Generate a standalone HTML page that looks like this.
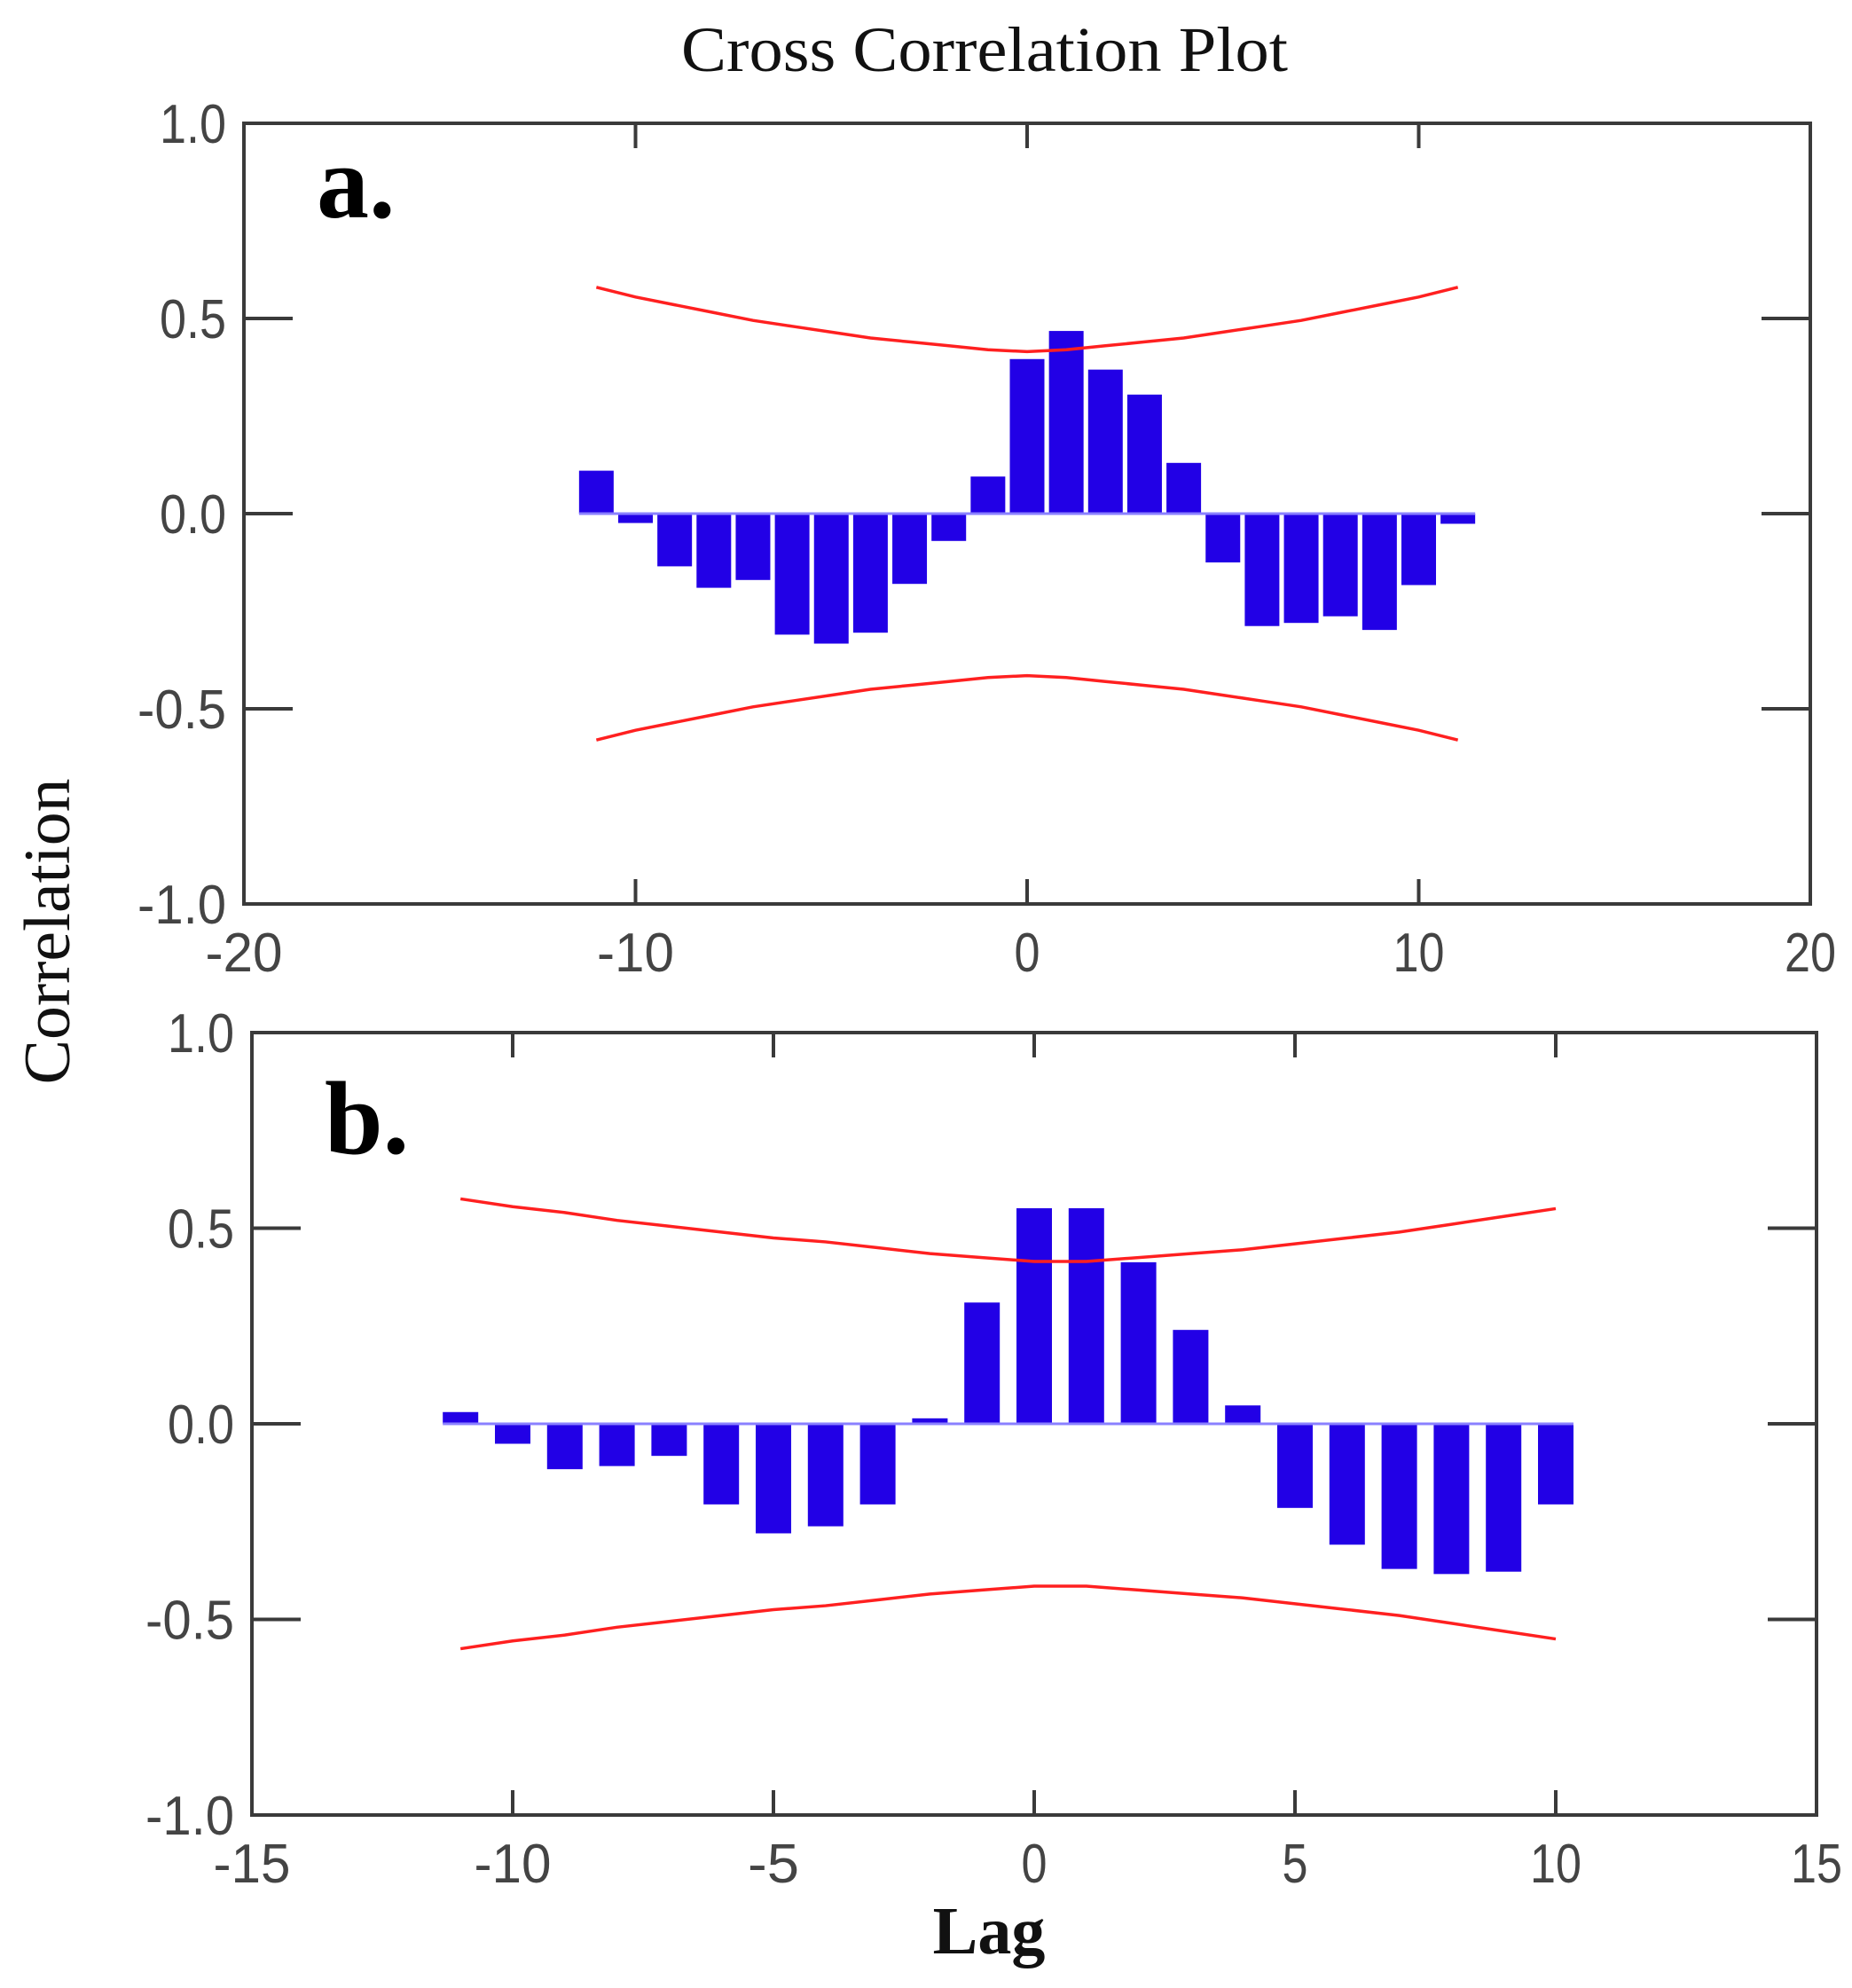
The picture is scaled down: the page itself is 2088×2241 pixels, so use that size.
<!DOCTYPE html>
<html><head><meta charset="utf-8"><style>
html,body{margin:0;padding:0;background:#fff;}
svg{display:block;}
</style></head><body>
<svg id="chart" width="2088" height="2241" viewBox="0 0 2088 2241" xmlns="http://www.w3.org/2000/svg">
<text x="1110" y="80" font-family="Liberation Serif, serif" font-size="72" text-anchor="middle" textLength="684" lengthAdjust="spacingAndGlyphs" fill="#111">Cross Correlation Plot</text>
<text transform="translate(78,1050) rotate(-90)" font-family="Liberation Serif, serif" font-size="74" text-anchor="middle" textLength="345" lengthAdjust="spacingAndGlyphs" fill="#111">Correlation</text>
<text x="1115" y="2202" font-family="Liberation Serif, serif" font-weight="bold" font-size="76" text-anchor="middle" fill="#111">Lag</text>
<g id="panelA"></g>
<g id="panelB"></g>
</svg>
<script>
const lagsA = [-11,-10,-9,-8,-7,-6,-5,-4,-3,-2,-1,0,1,2,3,4,5,6,7,8,9,10,11];
const corrA = [0.11,-0.024,-0.135,-0.19,-0.17,-0.31,-0.333,-0.305,-0.18,-0.07,0.095,0.396,0.468,0.369,0.305,0.13,-0.125,-0.288,-0.28,-0.263,-0.298,-0.183,-0.026];
const upperA = [0.58,0.555,0.535,0.515,0.495,0.48,0.465,0.45,0.44,0.43,0.42,0.415,0.42,0.43,0.44,0.45,0.465,0.48,0.495,0.515,0.535,0.555,0.58];
const lowerA = [-0.58,-0.555,-0.535,-0.515,-0.495,-0.48,-0.465,-0.45,-0.44,-0.43,-0.42,-0.415,-0.42,-0.43,-0.44,-0.45,-0.465,-0.48,-0.495,-0.515,-0.535,-0.555,-0.58];
const xTicksA = [-20,-10,0,10,20];
const lagsB = [-11,-10,-9,-8,-7,-6,-5,-4,-3,-2,-1,0,1,2,3,4,5,6,7,8,9,10];
const corrB = [0.03,-0.051,-0.116,-0.108,-0.082,-0.206,-0.28,-0.262,-0.206,0.014,0.31,0.551,0.551,0.413,0.24,0.047,-0.215,-0.309,-0.371,-0.384,-0.378,-0.206];
const upperB = [0.575,0.555,0.54,0.52,0.505,0.49,0.475,0.465,0.45,0.435,0.425,0.415,0.415,0.425,0.435,0.445,0.46,0.475,0.49,0.51,0.53,0.55];
const lowerB = [-0.575,-0.555,-0.54,-0.52,-0.505,-0.49,-0.475,-0.465,-0.45,-0.435,-0.425,-0.415,-0.415,-0.425,-0.435,-0.445,-0.46,-0.475,-0.49,-0.51,-0.53,-0.55];
const xTicksB = [-15,-10,-5,0,5,10,15];
const yTicks = [-1.0,-0.5,0.0,0.5,1.0];
const yTickLabels = ["-1.0","-0.5","0.0","0.5","1.0"];

const NS = "http://www.w3.org/2000/svg";
function mk(parent, tag, attrs){ const e=document.createElementNS(NS,tag); for(const k in attrs) e.setAttribute(k,attrs[k]); parent.appendChild(e); return e; }

function drawPanel(g, cfg){
  const {L,R,T,B,xmin,xmax,lags,corr,up,lo,xticks,barW,label,labelY,name} = cfg;
  const xs = v => L + (v - xmin) / (xmax - xmin) * (R - L);
  const ys = v => B - (v + 1) / 2 * (B - T);
  lags.forEach((k,i)=>{
    const v = corr[i]; const y0 = ys(0), y1 = ys(v);
    const r = mk(g,'rect',{x:xs(k)-barW/2, y:Math.min(y0,y1), width:barW, height:Math.max(1,Math.abs(y1-y0)), fill:'#2200e6'});
    
    
  });
  const zl = mk(g,'line',{x1:xs(lags[0])-barW/2, x2:xs(lags[lags.length-1])+barW/2, y1:ys(0), y2:ys(0), stroke:'#8a80ff', 'stroke-width':3});
  
  
  const pu = mk(g,'polyline',{points:lags.map((k,i)=>xs(k)+','+ys(up[i])).join(' '), fill:'none', stroke:'#ff2020', 'stroke-width':3.5});
  
  
  const pl = mk(g,'polyline',{points:lags.map((k,i)=>xs(k)+','+ys(lo[i])).join(' '), fill:'none', stroke:'#ff2020', 'stroke-width':3.5});
  
  
  const fr = mk(g,'rect',{x:L, y:T, width:R-L, height:B-T, fill:'none', stroke:'#3a3a3a', 'stroke-width':4});
  
  
  yTicks.forEach((v,i)=>{
    const y = ys(v);
    if (v > -1 && v < 1){
      const t1 = mk(g,'line',{x1:L, x2:L+55, y1:y, y2:y, stroke:'#3a3a3a', 'stroke-width':4});
      
      
      const t2 = mk(g,'line',{x1:R-55, x2:R, y1:y, y2:y, stroke:'#3a3a3a', 'stroke-width':4});
      
      
    }
    const tx = mk(g,'text',{x:L-20, y:y+22, 'font-family':'Liberation Sans, sans-serif', 'font-size':62, 'text-anchor':'end', fill:'#444', textLength: yTickLabels[i].length*25, lengthAdjust:'spacingAndGlyphs'});
    tx.textContent = yTickLabels[i];
    
    
  });
  xticks.forEach(v=>{
    const x = xs(v);
    if (v > xmin && v < xmax){
      const t1 = mk(g,'line',{x1:x, x2:x, y1:T, y2:T+28, stroke:'#3a3a3a', 'stroke-width':4});
      
      
      const t2 = mk(g,'line',{x1:x, x2:x, y1:B-28, y2:B, stroke:'#3a3a3a', 'stroke-width':4});
      
      
    }
    const s = String(v);
    const tx = mk(g,'text',{x:x, y:B+76, 'font-family':'Liberation Sans, sans-serif', 'font-size':62, 'text-anchor':'middle', fill:'#444', textLength: s.length*29, lengthAdjust:'spacingAndGlyphs'});
    tx.textContent = s;
    
    
  });
  const lb = mk(g,'text',{x:L+82, y:labelY, 'font-family':'Liberation Serif, serif', 'font-weight':'bold', 'font-size':118, fill:'#000'});
  lb.textContent = label;
  
  
}

drawPanel(document.getElementById('panelA'), {L:275,R:2041,T:139,B:1019,xmin:-20,xmax:20,lags:lagsA,corr:corrA,up:upperA,lo:lowerA,xticks:xTicksA,barW:39,label:'a.',labelY:245,name:'panel-a'});
drawPanel(document.getElementById('panelB'), {L:284,R:2048,T:1164,B:2046,xmin:-15,xmax:15,lags:lagsB,corr:corrB,up:upperB,lo:lowerB,xticks:xTicksB,barW:40,label:'b.',labelY:1300,name:'panel-b'});
</script>
</body></html>
